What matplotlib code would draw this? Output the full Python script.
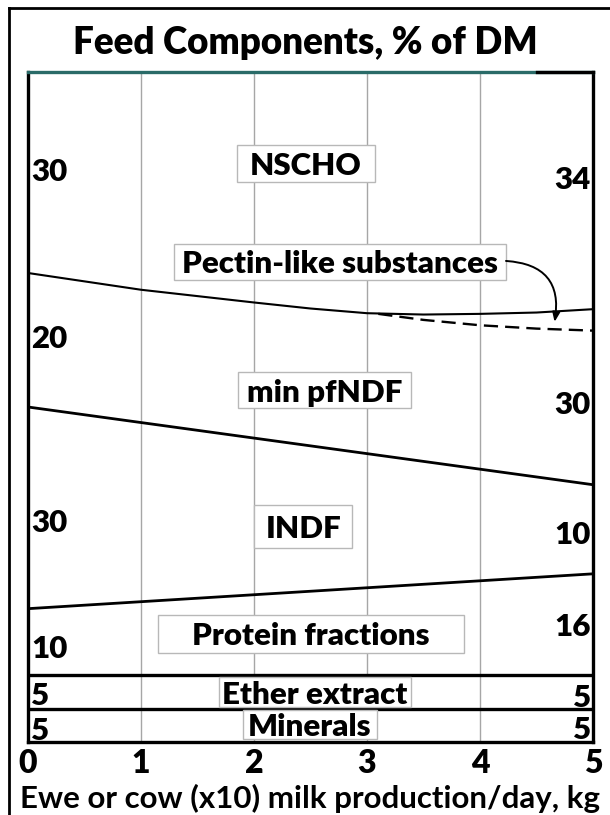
import matplotlib
matplotlib.use("Agg")
import matplotlib.pyplot as plt
from matplotlib.patches import Rectangle
from matplotlib.lines import Line2D

plt.rcParams['font.family'] = ['Lato', 'DejaVu Sans']

# ---------------- data ----------------
x_ends = [0, 5]
minerals_top = [5, 5]
ether_top = [10, 10]
protein_top = [19.9, 25.1]
indf_top = [50.0, 38.4]

x_pectin = [0, 1, 2, 2.5, 3, 3.5, 4, 4.5, 5]
pectin_top = [70.0, 67.5, 65.6, 64.7, 64.0, 63.8, 63.9, 64.1, 64.6]

x_dashed = [3.1, 3.5, 4, 4.5, 5]
pfndf_top_dashed = [63.9, 63.0, 62.2, 61.7, 61.4]

x_ticks = [0, 1, 2, 3, 4, 5]
x_ticklabels = ['0', '1', '2', '3', '4', '5']

left_values = ['30', '20', '30', '10', '5', '5']
right_values = ['34', '30', '10', '16', '5', '5']

components = ['NSCHO', 'Pectin-like substances', 'min pfNDF', 'INDF',
              'Protein fractions', 'Ether extract', 'Minerals']

# ---------------- layout ----------------
left_value_y = [85.4, 60.5, 33.1, 14.2, 7.2, 2.0]
right_value_y = [84.3, 50.6, 31.2, 17.5, 6.9, 2.1]
# (x0, x1, y0, y1) boxes for component labels
boxes = [(1.85, 3.07, 83.6, 89.1),
         (1.29, 4.23, 69.0, 74.3),
         (1.86, 3.39, 49.8, 55.2),
         (2.00, 2.87, 29.0, 35.4),
         (1.15, 3.86, 13.3, 19.0),
         (1.69, 3.39, 5.2, 9.7),
         (1.90, 3.09, 0.4, 4.8)]

FS = 22.5
WT = 'heavy'

W, H = 610, 815
fig = plt.figure(figsize=(W / 100, H / 100), dpi=100)
ax = fig.add_axes([28 / W, 1 - 742 / H, (593 - 28) / W, (742 - 72) / H])
ax.set_xlim(0, 5)
ax.set_ylim(0, 100)

# grid
for xv in x_ticks[1:-1]:
    ax.axvline(xv, color='#a6a6a6', lw=1.0, zorder=1)

# boundary lines
ax.plot(x_ends, minerals_top, color='black', lw=2.4, zorder=3, solid_capstyle='butt')
ax.plot(x_ends, ether_top, color='black', lw=2.4, zorder=3, solid_capstyle='butt')
ax.plot(x_ends, protein_top, color='black', lw=2.0, zorder=3)
ax.plot(x_ends, indf_top, color='black', lw=2.0, zorder=3)
ax.plot(x_pectin, pectin_top, color='black', lw=1.5, zorder=3)
ax.plot(x_dashed, pfndf_top_dashed, color='black', lw=1.7, zorder=3,
        dashes=(6.0, 3.0))

# label boxes
for name, (x0, x1, y0, y1) in zip(components, boxes):
    ax.add_patch(Rectangle((x0, y0), x1 - x0, y1 - y0, facecolor='white',
                           edgecolor='#b8b8b8', lw=1.0, zorder=4))
    ax.text((x0 + x1) / 2, (y0 + y1) / 2, name, ha='center', va='center_baseline',
            fontsize=FS, fontweight=WT, zorder=5)

# value labels
for v, y in zip(left_values, left_value_y):
    ax.text(0.03, y, v, ha='left', va='center_baseline', fontsize=FS,
            fontweight=WT, zorder=5)
for v, y in zip(right_values, right_value_y):
    ax.text(4.98, y, v, ha='right', va='center_baseline', fontsize=FS,
            fontweight=WT, zorder=5)

# arrow
ax.annotate('', xy=(4.66, 62.7), xytext=(4.23, 71.8),
            arrowprops=dict(arrowstyle='-|>,head_length=0.55,head_width=0.22',
                            connectionstyle='arc3,rad=-0.55', color='black',
                            lw=1.4, shrinkA=0, shrinkB=0), zorder=6)

# spines
for s in ['left', 'right', 'bottom']:
    ax.spines[s].set_linewidth(2.4)
    ax.spines[s].set_color('black')
ax.spines['top'].set_linewidth(2.4)
ax.spines['top'].set_color('#2a6b68')
ax.axhline(100, xmin=0.90, xmax=1.0, color='black', lw=2.4, clip_on=False, zorder=6)

ax.set_yticks([])
ax.set_xticks(x_ticks)
ax.set_xticklabels(x_ticklabels, fontsize=23, fontweight=WT)
ax.tick_params(axis='x', length=0, pad=5)
ax.set_xlabel('Ewe or cow (x10) milk production/day, kg', fontsize=22.5,
              fontweight='bold', labelpad=4)

fig.text(0.5 + 0 / W, 1 - 43 / H, 'Feed Components, % of DM', ha='center',
         va='center', fontsize=26.5, fontweight=WT)

# outer frame (left and top edges)
fig.add_artist(Line2D([9 / W, 9 / W], [0, 1 - 8 / H], color='black', lw=2.0,
                      transform=fig.transFigure))
fig.add_artist(Line2D([9 / W, 1], [1 - 8 / H, 1 - 8 / H], color='black', lw=2.0,
                      transform=fig.transFigure))

fig.savefig('out.png', dpi=100)
